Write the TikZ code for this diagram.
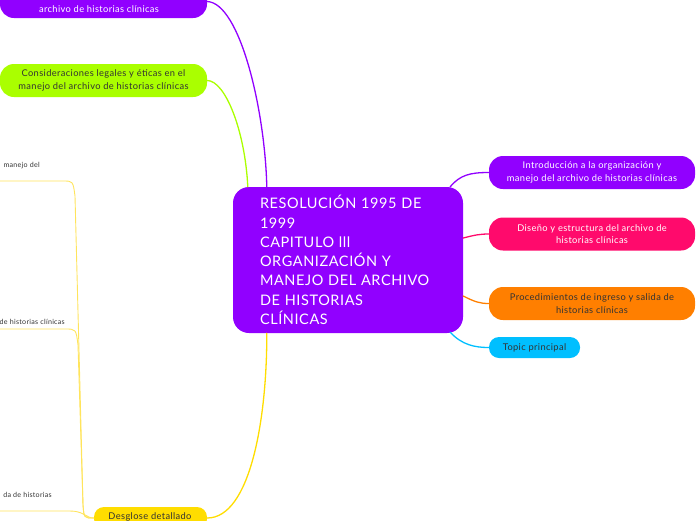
\documentclass[tikz,border=0pt]{standalone}
\usepackage{fontspec}
\setmainfont{Lato}[LetterSpace=4]
\usetikzlibrary{calc}
\definecolor{violeta}{HTML}{9100FF}
\definecolor{fucsia}{HTML}{FF0A6C}
\definecolor{naranja}{HTML}{FF7F00}
\definecolor{celeste}{HTML}{00BFFF}
\definecolor{lima}{HTML}{AAFF00}
\definecolor{amarillo}{HTML}{FFDD00}
\definecolor{amarillop}{HTML}{FFE45C}
\definecolor{texto}{HTML}{333333}
\begin{document}
\begin{tikzpicture}[line cap=round,line join=round,x=1pt,y=-1pt,
  rama/.style={rounded corners=14pt,inner sep=0pt,align=center,minimum height=33pt,font=\fontsize{9.3}{12.5}\selectfont},
  pill/.style={rounded corners=10pt,inner sep=0pt,minimum height=21pt,font=\fontsize{9.3}{11}\selectfont,text=texto},
  sub/.style={inner sep=0pt,font=\fontsize{7.1}{9}\selectfont,text=texto},
  con/.style={line width=1.3pt}]
\useasboundingbox (0,0) rectangle (696,520);
\clip (0,0) rectangle (696,520);
% tema central
\node [fill=violeta,rounded corners=16pt,minimum width=230pt,minimum height=146pt,text width=176pt,align=left,
  inner sep=0pt,text=white,font=\fontsize{14.5}{19.3}\selectfont] (main) at (348,260)
  {RESOLUCIÓN 1995 DE\\1999\\CAPITULO lll\\ORGANIZACIÓN Y\\MANEJO DEL ARCHIVO\\DE HISTORIAS\\CLÍNICAS};
% ramas derecha
\node [rama,fill=violeta,text=white,minimum width=206pt] (intro) at (592,172.5)
  {Introducción a la organización y\\manejo del archivo de historias clínicas};
\node [rama,fill=fucsia,text=white,minimum width=206pt] (diseno) at (592,234)
  {Diseño y estructura del archivo de\\historias clínicas};
\node [rama,fill=naranja,text=texto,minimum width=206pt] (proc) at (592,303.5)
  {Procedimientos de ingreso y salida de\\historias clínicas};
\node [pill,fill=celeste,minimum width=91pt] (topic) at (534.5,347.5) {Topic principal};
% ramas izquierda
\node [rama,fill=violeta,minimum width=207pt] (arriba) at (103.5,1.5) {};
\node [font=\fontsize{9.3}{12.5}\selectfont,text=white,inner sep=0pt] (arribatxt) at (99,9) {archivo de historias clínicas};
\node [rama,fill=lima,text=texto,minimum width=207pt] (legal) at (103.5,80.5)
  {Consideraciones legales y éticas en el\\manejo del archivo de historias clínicas};
\node [pill,fill=amarillo,minimum width=113pt,minimum height=22pt] (desg) at (150.5,518) {};
\node [font=\fontsize{9.3}{11}\selectfont,text=texto,inner sep=0pt] (desgtxt) at (150,516.5) {Desglose detallado};
% subtemas (cortados)
\node [sub,anchor=base east] (s1) at (40,167) {manejo del};
\node [sub,anchor=base east] (s2) at (65,324) {de historias clínicas};
\node [sub,anchor=base east] (s3) at (52,497) {da de historias};
\coordinate (c1) at (0,181);
\coordinate (c2) at (0,329);
\coordinate (c3) at (0,511);
% conectores
\draw [con,violeta] ($(main.north west)+(34,0)$) .. controls (265,110) and (240,3) .. (arriba.east);
\draw [con,lima] ($(main.north west)+(15,0)$) .. controls (245,130) and (225,80.5) .. (legal.east);
\draw [con,amarillo] ($(main.south west)+(34,0)$) .. controls (267,420) and (250,518) .. (desg.east);
\draw [con,violeta] ($(main.north east)+(-13,0)$) .. controls (460,175) and (470,172.5) .. (intro.west);
\draw [con,fucsia] ($(main.east)+(0,-22)$) .. controls (475,235) and (480,234) .. (diseno.west);
\draw [con,naranja] ($(main.east)+(0,36)$) .. controls (475,302) and (480,303.5) .. (proc.west);
\draw [con,celeste] ($(main.south east)+(-13,-1)$) .. controls (462,345) and (475,347.5) .. (topic.west);
\draw [line width=0.9pt,amarillop] (desg.west) .. controls (84,518) .. (83,505) -- (75,196) .. controls (73,181) .. (63,181) -- (c1);
\draw [line width=0.9pt,amarillop] (desg.west) .. controls (84,518) .. (83,505) -- (78,345) .. controls (76,329) .. (65,329) -- (c2);
\draw [line width=0.9pt,amarillop] (desg.west) .. controls (86,518) and (84,511) .. (70,511) -- (c3);
\end{tikzpicture}
\end{document}
